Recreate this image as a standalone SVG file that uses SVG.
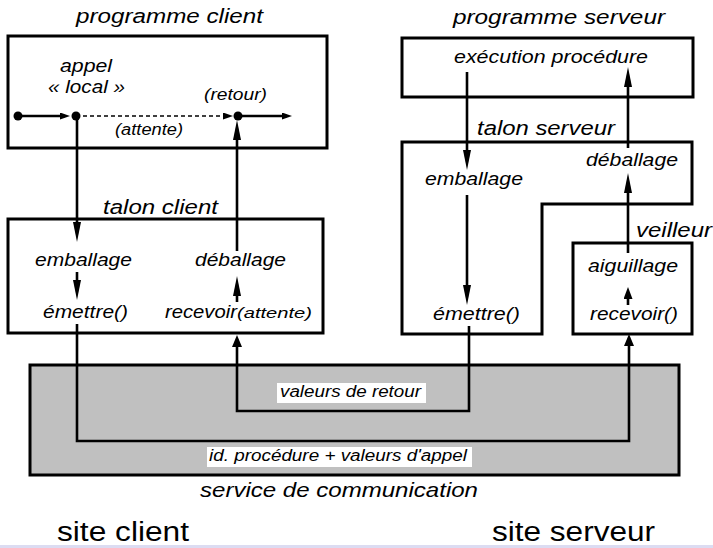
<svg xmlns="http://www.w3.org/2000/svg" width="713" height="548" viewBox="0 0 713 548">
<style>
text{font-family:"Liberation Sans",Arial,sans-serif;fill:#000;font-style:italic}
.up{font-style:normal}
.t20{font-size:20px}.t18{font-size:18px}.t16{font-size:16px}.t14{font-size:14px}
.box{fill:#fff;stroke:#000;stroke-width:3}
.conn{fill:none;stroke:#000;stroke-width:2.6}
.dash{fill:none;stroke:#000;stroke-width:1.5;stroke-dasharray:4 3}
.lbl{fill:#fff}
</style>
<defs>
<marker id="mL" markerUnits="userSpaceOnUse" viewBox="0 0 20 8" markerWidth="20" markerHeight="8" refX="10" refY="4" orient="auto"><path d="M0,0 L20,4 L0,8 z" fill="#000"/></marker>
<marker id="mM" markerUnits="userSpaceOnUse" viewBox="0 0 12 10" markerWidth="12" markerHeight="10" refX="6" refY="5" orient="auto"><path d="M0,0 L12,5 L0,10 z" fill="#000"/></marker>
<marker id="mS" markerUnits="userSpaceOnUse" viewBox="0 0 10 7" markerWidth="10" markerHeight="7" refX="5" refY="3.5" orient="auto"><path d="M0,0 L10,3.5 L0,7 z" fill="#000"/></marker>
<marker id="mR" markerUnits="userSpaceOnUse" viewBox="0 0 12 9" markerWidth="12" markerHeight="9" refX="6" refY="4.5" orient="auto"><path d="M0,0 L12,4.5 L0,9 z" fill="#000"/></marker>
</defs>
<rect width="713" height="548" fill="#fff"/>

<g id="service-communication">
<rect x="30" y="365" width="649" height="110" fill="#c0c0c0" stroke="#000" stroke-width="3"/>
<text x="200" y="497" style="font-size:21px" textLength="278" lengthAdjust="spacingAndGlyphs">service de communication</text>
</g>

<g id="programme-client">
<text class="t20" x="76" y="23" textLength="187" lengthAdjust="spacingAndGlyphs">programme client</text>
<rect class="box" x="8" y="36" width="319" height="112"/>
<text class="t18" x="60" y="72" textLength="52" lengthAdjust="spacingAndGlyphs">appel</text>
<text class="t18" x="48" y="93" textLength="77" lengthAdjust="spacingAndGlyphs">« local »</text>
<text class="t16" x="204" y="100" textLength="63" lengthAdjust="spacingAndGlyphs">(retour)</text>
<text class="t16" x="115" y="135" textLength="68" lengthAdjust="spacingAndGlyphs">(attente)</text>
</g>

<g id="talon-client">
<text class="t20" x="103" y="214" textLength="115" lengthAdjust="spacingAndGlyphs">talon client</text>
<rect class="box" x="8" y="219" width="315" height="114"/>
<text class="t18" x="35" y="266" textLength="97" lengthAdjust="spacingAndGlyphs">emballage</text>
<text class="t18" x="195" y="266" textLength="91" lengthAdjust="spacingAndGlyphs">déballage</text>
<text class="t18" x="43" y="318" textLength="85" lengthAdjust="spacingAndGlyphs">émettre()</text>
<text class="t18" x="165" y="318"><tspan x="165" textLength="72" lengthAdjust="spacingAndGlyphs">recevoir</tspan><tspan class="t14" x="237" textLength="75" lengthAdjust="spacingAndGlyphs">(attente)</tspan></text>
</g>

<g id="programme-serveur">
<text class="t20" x="453" y="24" textLength="212" lengthAdjust="spacingAndGlyphs">programme serveur</text>
<rect class="box" x="402" y="38" width="291" height="59"/>
<text class="t18" x="454" y="63" textLength="194" lengthAdjust="spacingAndGlyphs">exécution procédure</text>
</g>

<g id="talon-serveur">
<text class="t20" x="477" y="135" textLength="138" lengthAdjust="spacingAndGlyphs">talon serveur</text>
<path class="box" d="M402,142 H692 V204 H542 V334 H402 Z"/>
<text class="t18" x="586" y="166" textLength="92" lengthAdjust="spacingAndGlyphs">déballage</text>
<text class="t18" x="425" y="185" textLength="98" lengthAdjust="spacingAndGlyphs">emballage</text>
<text class="t18" x="433" y="320" textLength="87" lengthAdjust="spacingAndGlyphs">émettre()</text>
</g>

<g id="veilleur">
<text class="t20" x="636" y="237" textLength="76" lengthAdjust="spacingAndGlyphs">veilleur</text>
<rect class="box" x="573" y="243" width="119" height="91"/>
<text class="t18" x="588" y="272" textLength="90" lengthAdjust="spacingAndGlyphs">aiguillage</text>
<text class="t18" x="590" y="320" textLength="88" lengthAdjust="spacingAndGlyphs">recevoir()</text>
</g>

<g id="connectors">
<line class="conn" x1="18" y1="116" x2="65" y2="116" marker-end="url(#mS)"/>
<line class="dash" x1="76" y1="116" x2="228" y2="116" marker-end="url(#mS)"/>
<line class="conn" x1="238" y1="116" x2="287" y2="116" marker-end="url(#mS)"/>
<circle cx="18" cy="116" r="4.5"/>
<circle cx="76" cy="116" r="4.5"/>
<circle cx="238" cy="116" r="4.5"/>
<line class="conn" x1="77" y1="116" x2="77" y2="232" marker-end="url(#mL)"/>
<line class="conn" x1="77" y1="272" x2="77" y2="290" marker-end="url(#mL)"/>
<line class="conn" x1="237" y1="302" x2="237" y2="286" marker-end="url(#mL)"/>
<line class="conn" x1="237" y1="251" x2="237" y2="130" marker-end="url(#mL)"/>
<path class="conn" d="M77,324 V441 H629 V340" marker-end="url(#mM)"/>
<path class="conn" d="M469,326 V411 H237 V341" marker-end="url(#mM)"/>
<line class="conn" x1="467" y1="72" x2="467" y2="160" marker-end="url(#mL)"/>
<line class="conn" x1="467" y1="195" x2="467" y2="295" marker-end="url(#mL)"/>
<line class="conn" x1="628" y1="148" x2="628" y2="77" marker-end="url(#mL)"/>
<line class="conn" x1="628" y1="253" x2="628" y2="183" marker-end="url(#mL)"/>
<line class="conn" x1="628" y1="305" x2="628" y2="293" marker-end="url(#mR)"/>
<rect class="lbl" x="277" y="383" width="149" height="20"/>
<text class="t16" x="280" y="397" textLength="141" lengthAdjust="spacingAndGlyphs">valeurs de retour</text>
<rect class="lbl" x="207" y="447" width="265" height="20"/>
<text class="t16" x="209" y="461" textLength="258" lengthAdjust="spacingAndGlyphs">id. procédure + valeurs d'appel</text>
</g>

<g id="sites">
<text class="up" x="57" y="541" style="font-size:27px" textLength="132" lengthAdjust="spacingAndGlyphs">site client</text>
<text class="up" x="492" y="541" style="font-size:27px" textLength="163" lengthAdjust="spacingAndGlyphs">site serveur</text>
</g>
<rect x="0" y="545" width="713" height="3" fill="#dcdcf2"/>
</svg>
